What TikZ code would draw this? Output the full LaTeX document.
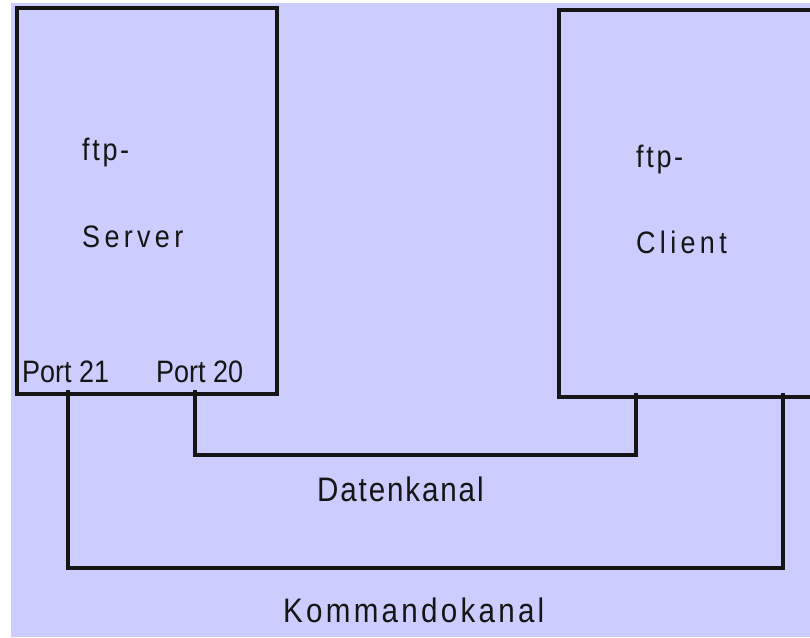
\documentclass[tikz,border=0pt]{standalone}
\usepackage{fontspec}
\setmainfont{Liberation Sans}[FakeStretch=0.87]
\definecolor{panel}{HTML}{CCCCFF}
\definecolor{ink}{HTML}{151515}
\begin{document}
\begin{tikzpicture}[x=1pt,y=-1pt,
  box/.style={draw=ink, line width=4pt, fill=panel, inner sep=0pt, anchor=north west},
  wire/.style={draw=ink, line width=4pt, line cap=rect},
  lbl/.style={text=ink, inner sep=0pt, anchor=base west, font=\fontsize{31}{31}\selectfont},
  chan/.style={text=ink, inner sep=0pt, anchor=base west, font=\fontsize{34}{34}\selectfont}]
  \useasboundingbox (0,0) rectangle (810,637);
  \clip (0,0) rectangle (810,637);
  % background panel
  \fill[panel] (11,3) rectangle (810,637);

  % the two hosts
  \node[box, minimum width=260.2pt, minimum height=386pt] (server) at (14.5,6) {};
  \node[box, minimum width=273pt, minimum height=387pt] (client) at (557,8) {};

  % host labels
  \node[lbl] (sftp) at (82,160) {\addfontfeature{LetterSpace=8.6}ftp-};
  \node[lbl] (sname) at (82,247) {\addfontfeature{LetterSpace=14}Server};
  \node[lbl] (cftp) at (636,167) {\addfontfeature{LetterSpace=8.6}ftp-};
  \node[lbl] (cname) at (636,253) {\addfontfeature{LetterSpace=14}Client};
  \node[lbl] (p21) at (22,382) {Port 21};
  \node[lbl] (p20) at (156,382) {Port 20};

  % attach points of the channels on the host edges
  \coordinate (s21) at (68,392);
  \coordinate (s20) at (195,392);
  \coordinate (cd) at (636,395);
  \coordinate (ck) at (783,395);
  \coordinate (dy) at (0,455);
  \coordinate (ky) at (0,568);

  % data channel (port 20)
  \draw[wire] (s20) -- (s20 |- dy) -- (cd |- dy) -- (cd);
  % command channel (port 21)
  \draw[wire] (s21) -- (s21 |- ky) -- (ck |- ky) -- (ck);

  % channel labels
  \node[chan] (dlabel) at (317,501) {\addfontfeature{LetterSpace=5.5}Datenkanal};
  \node[chan] (klabel) at (283,622) {\addfontfeature{LetterSpace=9.6}Kommandokanal};
\end{tikzpicture}
\end{document}
